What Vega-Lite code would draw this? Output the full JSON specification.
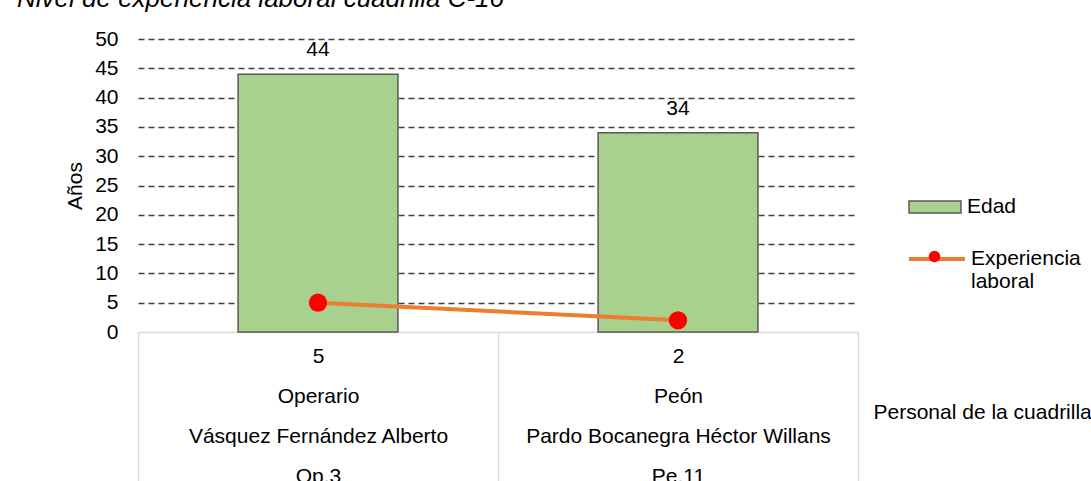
{
  "$schema": "https://vega.github.io/schema/vega-lite/v6.json",
  "width": 720,
  "height": 293,
  "autosize": {"type": "none"},
  "padding": {"left": 138, "top": 39, "right": 233, "bottom": 149},
  "background": "white",
  "title": {
    "text": "Nivel de experiencia laboral cuadrilla C-16",
    "anchor": "start",
    "frame": "group",
    "dx": -121,
    "dy": 18,
    "offset": 13,
    "baseline": "alphabetic",
    "fontStyle": "italic",
    "fontWeight": "normal",
    "fontSize": 26,
    "font": "Liberation Sans",
    "color": "#000000"
  },
  "data": {
    "values": [
      {"etiqueta": "5|Operario|Vásquez Fernández Alberto|Op.3", "edad": 44, "experiencia": 5},
      {"etiqueta": "2|Peón|Pardo Bocanegra Héctor Willans|Pe.11", "edad": 34, "experiencia": 2}
    ]
  },
  "encoding": {
    "x": {
      "field": "etiqueta",
      "type": "nominal",
      "sort": null,
      "scale": {"paddingInner": 0, "paddingOuter": 0},
      "axis": {
        "orient": "bottom",
        "title": "Personal de la cuadrilla",
        "labelExpr": "datum.value ? split(datum.value, '|') : ''",
        "labelAngle": 0,
        "labelLineHeight": 40,
        "labelBaseline": "top",
        "labelPadding": -147,
        "labelLimit": 0,
        "labelFontSize": 21,
        "labelColor": "#000000",
        "tickBand": "extent",
        "tickSize": 160,
        "tickColor": "#D9D9D9",
        "tickWidth": 1.5,
        "domainColor": "#D9D9D9",
        "domainWidth": 1.5,
        "titleX": 735,
        "titleY": 80,
        "titleAlign": "left",
        "titleBaseline": "middle",
        "titleFontSize": 21,
        "titleFontWeight": "normal",
        "titleColor": "#000000"
      }
    }
  },
  "layer": [
    {
      "mark": {"type": "bar", "width": {"band": 0.444}, "stroke": "#595959", "strokeWidth": 1.5},
      "encoding": {
        "y": {
          "field": "edad",
          "type": "quantitative",
          "scale": {"domain": [0, 50], "nice": false},
          "axis": {
            "title": "Años",
            "values": [0, 5, 10, 15, 20, 25, 30, 35, 40, 45, 50],
            "labelOverlap": false,
            "domain": false,
            "ticks": false,
            "labelPadding": 20,
            "labelFontSize": 21,
            "labelColor": "#000000",
            "grid": true,
            "gridDash": [6, 4],
            "gridWidth": 1.3,
            "gridColor": {"condition": {"test": "datum.value === 0", "value": "transparent"}, "value": "#404040"},
            "titleFontSize": 21,
            "titleFontWeight": "normal",
            "titleColor": "#000000",
            "titleX": -63,
            "titleY": 146.5,
            "titleAngle": -90,
            "titleAlign": "center",
            "titleBaseline": "middle"
          }
        },
        "fill": {
          "datum": "Edad",
          "scale": {"range": ["#A9D18E"]},
          "legend": {
            "orient": "none",
            "legendX": 770,
            "legendY": 141,
            "title": null,
            "padding": 0,
            "symbolType": "M-1,-0.23H1V0.23H-1Z",
            "symbolSize": 2704,
            "symbolStrokeColor": "#595959",
            "symbolStrokeWidth": 1.5,
            "symbolFillColor": "#A9D18E",
            "labelFontSize": 21,
            "labelColor": "#000000",
            "labelOffset": 5
          }
        }
      }
    },
    {
      "mark": {"type": "text", "baseline": "middle", "dy": -24, "fontSize": 21, "color": "#000000"},
      "encoding": {
        "y": {
          "field": "edad",
          "type": "quantitative",
          "axis": {
            "title": "Años",
            "values": [0, 5, 10, 15, 20, 25, 30, 35, 40, 45, 50],
            "labelOverlap": false,
            "domain": false,
            "ticks": false,
            "labelPadding": 20,
            "labelFontSize": 21,
            "labelColor": "#000000",
            "grid": true,
            "gridDash": [6, 4],
            "gridWidth": 1.3,
            "gridColor": {"condition": {"test": "datum.value === 0", "value": "transparent"}, "value": "#404040"},
            "titleFontSize": 21,
            "titleFontWeight": "normal",
            "titleColor": "#000000",
            "titleX": -63,
            "titleY": 146.5,
            "titleAngle": -90,
            "titleAlign": "center",
            "titleBaseline": "middle"
          }
        },
        "text": {"field": "edad", "type": "quantitative"}
      }
    },
    {
      "mark": {"type": "line", "strokeWidth": 4},
      "encoding": {
        "y": {
          "field": "experiencia",
          "type": "quantitative",
          "axis": {
            "title": "Años",
            "values": [0, 5, 10, 15, 20, 25, 30, 35, 40, 45, 50],
            "labelOverlap": false,
            "domain": false,
            "ticks": false,
            "labelPadding": 20,
            "labelFontSize": 21,
            "labelColor": "#000000",
            "grid": true,
            "gridDash": [6, 4],
            "gridWidth": 1.3,
            "gridColor": {"condition": {"test": "datum.value === 0", "value": "transparent"}, "value": "#404040"},
            "titleFontSize": 21,
            "titleFontWeight": "normal",
            "titleColor": "#000000",
            "titleX": -63,
            "titleY": 146.5,
            "titleAngle": -90,
            "titleAlign": "center",
            "titleBaseline": "middle"
          }
        },
        "stroke": {
          "datum": "Experiencia laboral",
          "scale": {"range": ["#ED7D31"]},
          "legend": {
            "orient": "none",
            "legendX": 769,
            "legendY": 190,
            "title": null,
            "padding": 0,
            "symbolType": "stroke",
            "symbolSize": 3136,
            "symbolStrokeWidth": 4,
            "symbolStrokeColor": "#ED7D31",
            "labelExpr": "['Experiencia', 'laboral']",
            "labelFontSize": 21,
            "labelLineHeight": 24,
            "labelColor": "#000000",
            "labelOffset": 4
          }
        }
      }
    },
    {
      "mark": {"type": "point", "filled": true, "color": "#FF0000", "size": 333, "opacity": 1},
      "encoding": {
        "y": {
          "field": "experiencia",
          "type": "quantitative",
          "axis": {
            "title": "Años",
            "values": [0, 5, 10, 15, 20, 25, 30, 35, 40, 45, 50],
            "labelOverlap": false,
            "domain": false,
            "ticks": false,
            "labelPadding": 20,
            "labelFontSize": 21,
            "labelColor": "#000000",
            "grid": true,
            "gridDash": [6, 4],
            "gridWidth": 1.3,
            "gridColor": {"condition": {"test": "datum.value === 0", "value": "transparent"}, "value": "#404040"},
            "titleFontSize": 21,
            "titleFontWeight": "normal",
            "titleColor": "#000000",
            "titleX": -63,
            "titleY": 146.5,
            "titleAngle": -90,
            "titleAlign": "center",
            "titleBaseline": "middle"
          }
        },
        "shape": {
          "datum": " ",
          "scale": {"range": ["circle"]},
          "legend": {
            "orient": "none",
            "legendX": 786,
            "legendY": 207,
            "title": null,
            "padding": 0,
            "symbolSize": 133,
            "symbolFillColor": "#FF0000",
            "symbolStrokeWidth": 0,
            "symbolOpacity": 1,
            "labelFontSize": 21
          }
        }
      }
    }
  ],
  "config": {
    "font": "Liberation Sans",
    "view": {"stroke": null}
  }
}
